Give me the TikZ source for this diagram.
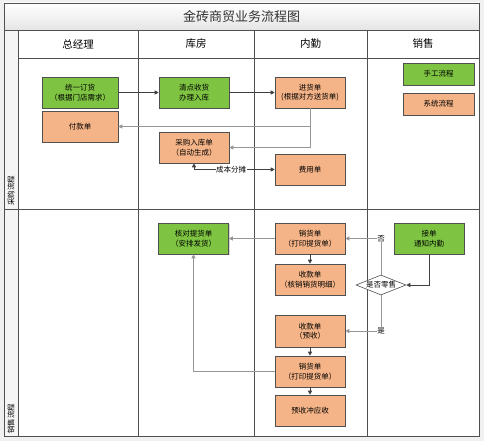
\documentclass[tikz,border=0pt]{standalone}
\usepackage{fontspec}
\newfontfamily\cjk{Noto Sans CJK SC}
\usetikzlibrary{shapes.geometric,arrows.meta,shadows}
\definecolor{gfill}{RGB}{126,196,66}
\definecolor{ofill}{RGB}{245,180,135}
\definecolor{frame}{RGB}{80,80,80}
\definecolor{darkln}{RGB}{64,64,64}
\definecolor{grayln}{RGB}{150,150,150}
\definecolor{bg}{RGB}{240,240,240}
\tikzset{
  box/.style={draw=frame, line width=0.6pt, minimum width=70pt, minimum height=31pt,
    align=center, font=\cjk\fontsize{7.5}{9.5}\selectfont, inner sep=1pt,
    drop shadow={shadow xshift=1pt, shadow yshift=-1pt, fill=black, opacity=0.15}},
  gbox/.style={box, fill=gfill},
  obox/.style={box, fill=ofill},
  dec/.style={diamond, draw=frame, fill=white, line width=0.6pt, minimum width=50pt,
    minimum height=20pt, aspect=2.5, inner sep=0pt, font=\cjk\fontsize{7.5}{8}\selectfont},
  tip/.style={-{Triangle[length=4pt,width=4pt]}},
  dk/.style={tip, draw=darkln, line width=0.7pt},
  gy/.style={tip, draw=grayln, line width=1pt},
  lbl/.style={fill=white, inner sep=0.5pt, font=\cjk\fontsize{7.5}{8}\selectfont},
  lane/.style={draw=frame, line width=0.7pt},
  hdr/.style={font=\cjk\fontsize{10.5}{12}\selectfont},
  side/.style={rotate=90, anchor=west, font=\cjk\fontsize{7.5}{8}\selectfont, inner sep=0pt}
}
\begin{document}
\begin{tikzpicture}[x=1pt,y=-1pt]
\useasboundingbox (0,0) rectangle (484,441);
\fill[bg] (0,0) rectangle (484,441);
% frame
\shade[top color=white, bottom color=black!10] (4,3) rectangle (479,30);
\fill[white] (18,30) rectangle (479,436);
\fill[black!4] (4,30) rectangle (18,436);
\draw[lane] (4,3) rectangle (479,436);
\draw[lane] (4,30) -- (479,30);
\draw[lane] (18,58) -- (479,58);
\draw[lane] (18,30) -- (18,436);
\draw[lane] (138,30) -- (138,436);
\draw[lane] (254,30) -- (254,436);
\draw[lane] (367,30) -- (367,436);
\draw[lane] (4,209) -- (479,209);
\node[font=\cjk\fontsize{13}{15}\selectfont, text=black!80] (title) at (241.5,17) {金砖商贸业务流程图};
\node[hdr] (h1) at (78,44) {总经理};
\node[hdr] (h2) at (196,44) {库房};
\node[hdr] (h3) at (310.5,44) {内勤};
\node[hdr] (h4) at (423,44) {销售};
\node[side] (r1) at (11,206) {采购流程};
\node[side] (r2) at (11,434) {销售流程};
% purchase nodes
\node[gbox, minimum width=76pt] (n1) at (80,92.5) {统一订货\\（根据门店需求）};
\node[obox, minimum width=76pt] (n2) at (80,126.5) {付款单};
\node[gbox] (n3) at (194,92.5) {清点收货\\办理入库};
\node[obox] (n4) at (194,147.5) {采购入库单\\（自动生成）};
\node[obox] (n5) at (310,92.5) {进货单\\(根据对方送货单)};
\node[obox] (n6) at (310,169.5) {费用单};
\node[gbox, minimum width=71pt, minimum height=22pt] (leg1) at (438.5,74) {手工流程};
\node[obox, minimum width=71pt, minimum height=22pt] (leg2) at (438.5,104) {系统流程};
% sales nodes
\node[gbox] (s1) at (193.5,238.5) {核对提货单\\（安排发货）};
\node[obox] (s2) at (310,238.5) {销货单\\（打印提货单）};
\node[obox] (s3) at (310,279.5) {收款单\\（核销销货明细）};
\node[gbox] (s4) at (429,238.5) {接单\\通知内勤};
\node[dec] (d) at (381,285) {是否零售};
\node[obox, minimum height=32pt] (s5) at (310,331) {收款单\\（预收）};
\node[obox] (s6) at (310,371.5) {销货单\\（打印提货单）};
\node[obox] (s7) at (310,410.5) {预收冲应收};
% purchase connectors
\draw[dk] (n1) -- (n3);
\draw[dk] (n3) -- (n5);
\draw[gy] (n5.south) |- (n2.east);
\draw[dk, draw=grayln] (n5.south) |- (n4.east);
\draw[dk, {Triangle[length=4pt,width=4pt]}-{Triangle[length=4pt,width=4pt]}] (n4.south) |- node[lbl, pos=0.73] {成本分摊} (n6.west);
% sales connectors
\draw[gy] (s2) -- (s1);
\draw[dk] (s2) -- (s3);
\draw[dk] (s4.south) |- (d.east);
\draw[gy] (d.north) |- node[lbl, pos=0.5] {否} (s2.east);
\draw[gy] (d.south) |- node[lbl, pos=0.5] {是} (s5.east);
\draw[dk] (s5) -- (s6);
\draw[dk] (s6) -- (s7);
\draw[gy] (s6.west) -| (s1.south);
\end{tikzpicture}
\end{document}
